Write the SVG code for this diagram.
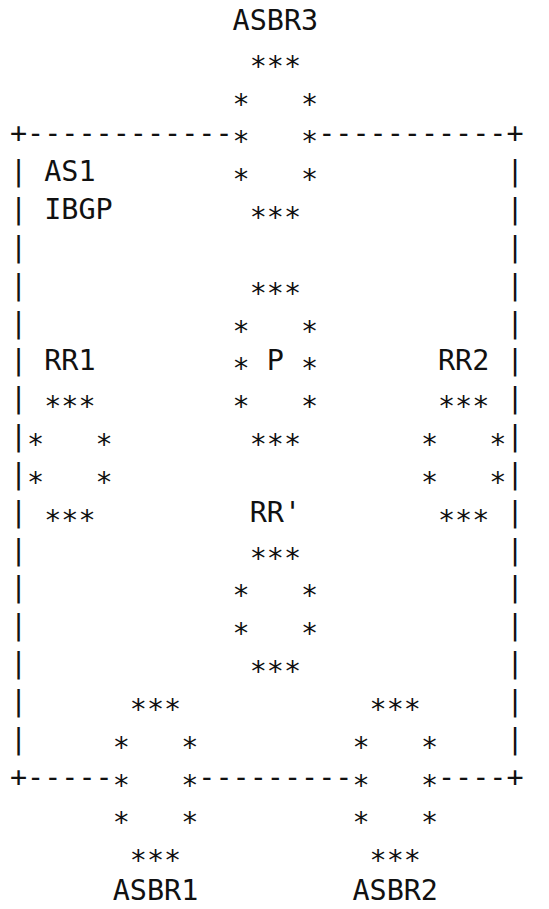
<svg xmlns="http://www.w3.org/2000/svg" width="549" height="909" viewBox="0 0 549 909">
<style>
text{font-family:"DejaVu Sans Mono","Liberation Mono",monospace;font-size:28.44px;fill:#111;white-space:pre}
</style>
<rect width="549" height="909" fill="#fff"/>
<g id="as1-boundary">
<text x="10" y="143.49">+------------</text>
<text x="318.16" y="143.49">-----------+</text>
<text x="10" y="786.6">+-----</text>
<text x="198.32" y="786.6">---------</text>
<text x="438" y="786.6">----+</text>
<g id="left-edge">
<text x="10" y="181.32">|</text><text x="10" y="219.15">|</text><text x="10" y="256.98">|</text><text x="10" y="294.81">|</text>
<text x="10" y="332.64">|</text><text x="10" y="370.47">|</text><text x="10" y="408.3">|</text><text x="10" y="446.13">|</text>
<text x="10" y="483.96">|</text><text x="10" y="521.79">|</text><text x="10" y="559.62">|</text><text x="10" y="597.45">|</text>
<text x="10" y="635.28">|</text><text x="10" y="673.11">|</text><text x="10" y="710.94">|</text><text x="10" y="748.77">|</text>
</g>
<g id="right-edge">
<text x="506.48" y="181.32">|</text><text x="506.48" y="219.15">|</text><text x="506.48" y="256.98">|</text><text x="506.48" y="294.81">|</text>
<text x="506.48" y="332.64">|</text><text x="506.48" y="370.47">|</text><text x="506.48" y="408.3">|</text><text x="506.48" y="446.13">|</text>
<text x="506.48" y="483.96">|</text><text x="506.48" y="521.79">|</text><text x="506.48" y="559.62">|</text><text x="506.48" y="597.45">|</text>
<text x="506.48" y="635.28">|</text><text x="506.48" y="673.11">|</text><text x="506.48" y="710.94">|</text><text x="506.48" y="748.77">|</text>
</g>
<text x="44.24" y="181.32">AS1</text>
<text x="44.24" y="219.15">IBGP</text>
</g>
<g id="asbr3">
<text x="232.56" y="30">ASBR3</text>
<text x="249.68" y="67.83" dy="8">***</text>
<text x="232.56" y="105.66" dy="8">*</text><text x="301.04" y="105.66" dy="8">*</text>
<text x="232.56" y="143.49" dy="8">*</text><text x="301.04" y="143.49" dy="8">*</text>
<text x="232.56" y="181.32" dy="8">*</text><text x="301.04" y="181.32" dy="8">*</text>
<text x="249.68" y="219.15" dy="8">***</text>
</g>
<g id="p">
<text x="249.68" y="294.81" dy="8">***</text>
<text x="232.56" y="332.64" dy="8">*</text><text x="301.04" y="332.64" dy="8">*</text>
<text x="232.56" y="370.47" dy="8">*</text><text x="266.8" y="370.47">P</text><text x="301.04" y="370.47" dy="8">*</text>
<text x="232.56" y="408.3" dy="8">*</text><text x="301.04" y="408.3" dy="8">*</text>
<text x="249.68" y="446.13" dy="8">***</text>
</g>
<g id="rr1">
<text x="44.24" y="370.47">RR1</text>
<text x="44.24" y="408.3" dy="8">***</text>
<text x="27.12" y="446.13" dy="8">*</text><text x="95.6" y="446.13" dy="8">*</text>
<text x="27.12" y="483.96" dy="8">*</text><text x="95.6" y="483.96" dy="8">*</text>
<text x="44.24" y="521.79" dy="8">***</text>
</g>
<g id="rr2">
<text x="438" y="370.47">RR2</text>
<text x="438" y="408.3" dy="8">***</text>
<text x="420.88" y="446.13" dy="8">*</text><text x="489.36" y="446.13" dy="8">*</text>
<text x="420.88" y="483.96" dy="8">*</text><text x="489.36" y="483.96" dy="8">*</text>
<text x="438" y="521.79" dy="8">***</text>
</g>
<g id="rr-prime">
<text x="249.68" y="521.79">RR'</text>
<text x="249.68" y="559.62" dy="8">***</text>
<text x="232.56" y="597.45" dy="8">*</text><text x="301.04" y="597.45" dy="8">*</text>
<text x="232.56" y="635.28" dy="8">*</text><text x="301.04" y="635.28" dy="8">*</text>
<text x="249.68" y="673.11" dy="8">***</text>
</g>
<g id="asbr1">
<text x="129.84" y="710.94" dy="8">***</text>
<text x="112.72" y="748.77" dy="8">*</text><text x="181.2" y="748.77" dy="8">*</text>
<text x="112.72" y="786.6" dy="8">*</text><text x="181.2" y="786.6" dy="8">*</text>
<text x="112.72" y="824.43" dy="8">*</text><text x="181.2" y="824.43" dy="8">*</text>
<text x="129.84" y="862.26" dy="8">***</text>
<text x="112.72" y="900.09">ASBR1</text>
</g>
<g id="asbr2">
<text x="369.52" y="710.94" dy="8">***</text>
<text x="352.4" y="748.77" dy="8">*</text><text x="420.88" y="748.77" dy="8">*</text>
<text x="352.4" y="786.6" dy="8">*</text><text x="420.88" y="786.6" dy="8">*</text>
<text x="352.4" y="824.43" dy="8">*</text><text x="420.88" y="824.43" dy="8">*</text>
<text x="369.52" y="862.26" dy="8">***</text>
<text x="352.4" y="900.09">ASBR2</text>
</g>
</svg>
